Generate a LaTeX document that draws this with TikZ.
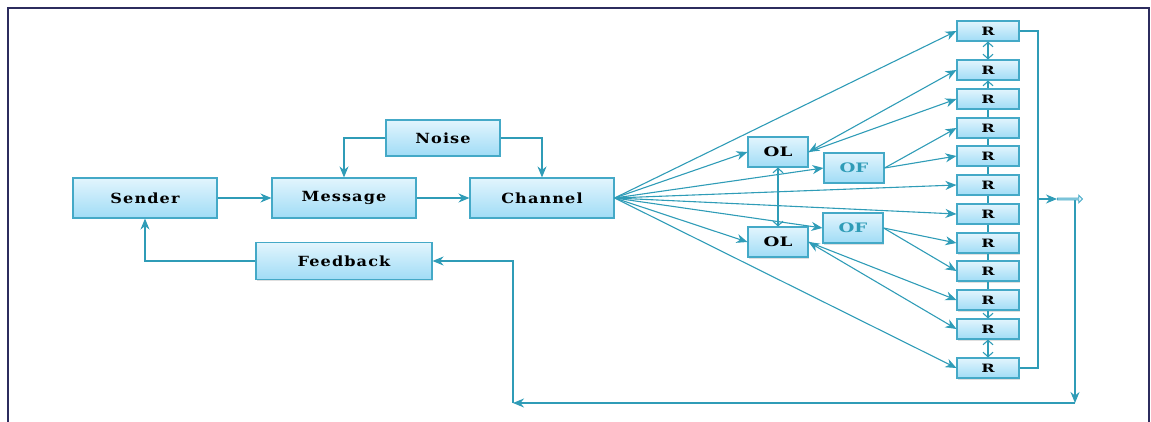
\documentclass[tikz,border=0pt]{standalone}
\usepackage{fontspec}
\setmainfont{DejaVu Serif}
\newfontfamily\boxfont{DejaVu Serif}[FakeStretch=1.15, LetterSpace=8]
\newfontfamily\tagfont{DejaVu Serif}[FakeStretch=1.4]
\usepackage{xcolor}
\usepackage{tikz}
\usetikzlibrary{arrows.meta,shadows,shapes.arrows}
\definecolor{teal edge}{HTML}{44A9C7}
\definecolor{teal wire}{HTML}{2F9CB7}
\definecolor{frame navy}{HTML}{2C2C5E}
\definecolor{box top}{HTML}{E2F5FD}
\definecolor{box bottom}{HTML}{A0DCF6}
\tikzset{block/.style={draw=teal edge, line width=1.1pt, top color=box top, bottom color=box bottom,
        minimum width=144pt, minimum height=40pt, inner sep=0pt,
        font=\boxfont\bfseries\fontsize{14}{16}\selectfont,
        drop shadow={opacity=0.25, shadow xshift=1pt, shadow yshift=-1.5pt}},
    olbox/.style={block, minimum width=60pt, minimum height=30pt, font=\tagfont\bfseries\fontsize{13}{15}\selectfont},
    ofbox/.style={olbox, text=teal wire},
    rbox/.style={block, minimum width=62pt, minimum height=20pt, font=\tagfont\bfseries\fontsize{11.5}{13}\selectfont},
    plain/.style={draw=teal wire, line width=1.1pt},
    tip/.style={-{Stealth[length=11pt,width=9pt,inset=3.5pt]}},
    both tips/.style={{Stealth[length=11pt,width=9pt,inset=3.5pt]}-{Stealth[length=11pt,width=9pt,inset=3.5pt]}},
    link/.style={plain, tip},
    barb/.style={plain, -{Straight Barb[length=4.5pt,width=10pt]}},
    both barbs/.style={barb, {Straight Barb[length=4.5pt,width=10pt]}-{Straight Barb[length=4.5pt,width=10pt]}}}

\begin{document}
\begin{tikzpicture}[x=1pt, y=-1pt]
    \useasboundingbox (0,0) rectangle (1151,422);
    \draw[frame navy, line width=2.5pt] (8,430) |- (1149,8) -- (1149,430);

    \node[block] (sender) at (145,198) {Sender};
    \node[block] (message) at (344,198) {Message};
    \node[block, minimum width=114pt, minimum height=36pt] (noise) at (443,138) {Noise};
    \node[block] (channel) at (542,198) {Channel};
    \node[block, minimum width=176pt, minimum height=37pt] (feedback) at (344,261) {Feedback};

    \node[olbox] (ol1) at (778,152) {OL};
    \node[olbox] (ol2) at (778,242) {OL};
    \node[ofbox] (of1) at (854,168) {OF};
    \node[ofbox] (of2) at (853,228) {OF};

    \foreach \n/\y in {1/31,2/70,3/99,4/128,5/156,6/185,7/214,8/243,9/271,10/300,11/329,12/368}
        \node[rbox] (r\n) at (988,\y) {R};

    \draw[link] (sender) -- (message);
    \draw[link] (message) -- (channel);
    \draw[link] (noise.west) -| (message.north);
    \draw[link] (noise.east) -| (channel.north);
    \draw[link] (feedback.west) -| (sender.south);

    \foreach \t in {r1,ol1,of1,r6,r7,of2,ol2,r12}
        \draw[link] (channel.east) -- (\t.west);

    \draw[plain, both tips] (ol1.east) -- (r2.west);
    \draw[link] (ol1.east) -- (r3.west);
    \draw[link] (of1.east) -- (r4.west);
    \draw[link] (of1.east) -- (r5.west);
    \draw[link] (of2.east) -- (r8.west);
    \draw[link] (of2.east) -- (r9.west);
    \draw[link] (ol2.east) -- (r10.west);
    \draw[plain, both tips] (ol2.east) -- (r11.west);
    \draw[both barbs] (ol1.south) -- (ol2.north);

    \draw[both barbs] (r1.south) -- (r2.north);
    \draw[barb] (r3.north) -- (r2.south);
    \foreach \a/\b in {3/4,4/5,5/6,6/7,7/8,8/9,9/10}
        \draw[plain] (r\a.south) -- (r\b.north);
    \draw[barb] (r10.south) -- (r11.north);
    \draw[both barbs] (r11.south) -- (r12.north);

    \coordinate (bus) at (1038,199);
    \coordinate (drop) at (1075,199);
    \coordinate (corner) at (1075,403);
    \coordinate (back) at (513,403);
    \draw[plain] (r1.east) -| (bus) |- (r12.east);
    \draw[link] (drop) -- (corner);
    \node[single arrow, draw=teal edge, fill=box top, line width=0.9pt, minimum height=25pt, minimum width=7.5pt,
          single arrow head extend=1.5pt, inner sep=0pt, anchor=west] (outarrow) at (1057,199) {};
    \draw[link] (bus) -- (outarrow.west);
    \draw[link] (corner) -- (back);
    \draw[link] (back) |- (feedback.east);
\end{tikzpicture}
\end{document}
